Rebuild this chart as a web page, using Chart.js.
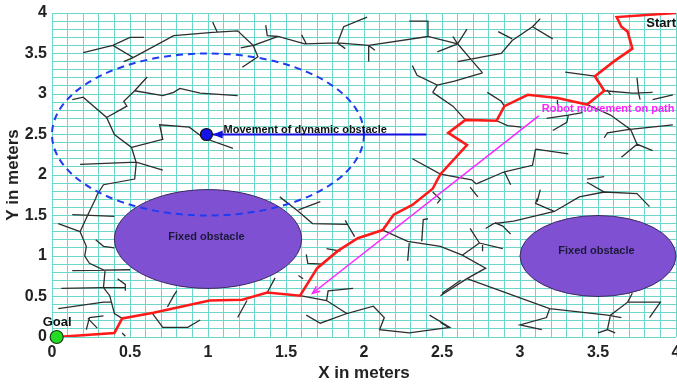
<!DOCTYPE html>
<html>
<head>
<meta charset="utf-8">
<script src="https://cdn.jsdelivr.net/npm/chart.js@4.4.0/dist/chart.umd.min.js"></script>
<style>
  html, body { margin: 0; padding: 0; background: #fff; overflow: hidden; }
  #wrap { width: 677px; height: 385px; overflow: hidden; }
</style>
</head>
<body>
<div id="wrap"><canvas id="chart" width="690" height="385"></canvas></div>
<script>
// axis ticks (meters) - grid every 0.1, labels every 0.5
var tickValues = [0, 0.5, 1, 1.5, 2, 2.5, 3, 3.5, 4];
var tickLabels = ['0', '0.5', '1', '1.5', '2', '2.5', '3', '3.5', '4'];

// RRT tree branches, each one a polyline of [x, y] in meters
var treeBranches = [
  [[0.2,3.51],[0.39,3.6],[0.5,3.7],[0.59,3.7]],
  [[0.39,3.6],[0.52,3.45]],
  [[0.46,3.4],[0.52,3.45],[0.78,3.72],[1.03,3.76],[1.19,3.78],[1.29,3.6],[1.45,3.71],[1.62,3.62],[1.83,3.63],[2.03,3.6],[2.41,3.71],[2.6,3.62]],
  [[1.03,3.89],[1.06,3.76]],
  [[1.21,3.57],[1.29,3.6]],
  [[1.37,3.85],[1.38,3.72],[1.45,3.71]],
  [[1.29,3.6],[1.32,3.46],[1.22,3.33]],
  [[1.6,3.73],[1.63,3.62]],
  [[1.83,3.63],[1.87,3.83],[2.02,3.95]],
  [[1.83,3.63],[1.88,3.56]],
  [[2.03,3.6],[2.03,3.4]],
  [[2.03,3.6],[2.07,3.54]],
  [[2.29,3.9],[2.41,3.9],[2.41,3.71]],
  [[2.47,3.52],[2.6,3.62]],
  [[2.6,3.62],[2.66,3.8]],
  [[2.57,3.71],[2.6,3.62]],
  [[2.6,3.62],[2.68,3.44],[2.76,3.26]],
  [[2.6,3.4],[2.88,3.5],[2.95,3.66],[3.08,3.83],[3.21,3.68]],
  [[2.86,3.77],[2.95,3.68]],
  [[3.13,3.93],[3.08,3.83]],
  [[2.31,3.35],[2.34,3.23],[2.47,3.11],[2.58,3.16],[2.76,3.26]],
  [[2.44,3.02],[2.47,3.11]],
  [[2.44,3.02],[2.57,2.85],[2.65,2.68]],
  [[2.31,2.2],[2.49,2.01],[2.69,1.94],[2.72,1.89]],
  [[0.61,3.21],[0.53,3.04]],
  [[0.53,3.04],[0.71,2.98],[0.78,3.02],[0.82,3.07],[0.95,3.01],[1.19,2.98]],
  [[0.53,3.04],[0.46,2.91],[0.48,2.85],[0.35,2.71]],
  [[0.13,2.93],[0.2,2.96],[0.35,2.71],[0.4,2.5],[0.51,2.34],[0.54,2.15],[0.53,1.95],[0.33,1.88],[0.29,1.76],[0.28,1.71],[0.23,1.51],[0.18,1.3],[0.22,1.12],[0.21,1.0],[0.24,0.91],[0.34,0.82],[0.33,0.61],[0.37,0.51],[0.4,0.29],[0.45,0.23]],
  [[0.51,2.34],[0.71,2.44],[0.69,2.62],[0.88,2.59],[0.97,2.46],[1.16,2.33]],
  [[0.18,2.13],[0.54,2.16],[0.71,2.06]],
  [[0.13,1.51],[0.4,1.49]],
  [[0.04,1.4],[0.18,1.3]],
  [[0.28,1.2],[0.33,1.12],[0.4,1.1]],
  [[0.13,0.82],[0.5,0.83]],
  [[0.06,0.6],[0.32,0.61],[0.47,0.61]],
  [[0.42,0.72],[0.47,0.65],[0.47,0.57]],
  [[0.04,0.35],[0.33,0.43],[0.38,0.43]],
  [[0.22,0.09],[0.24,0.24],[0.33,0.26]],
  [[0.23,0.23],[0.29,0.11]],
  [[0.45,0.05],[0.47,0.01]],
  [[0.64,0.3],[0.71,0.12],[0.87,0.12],[0.95,0.21]],
  [[0.74,0.37],[0.78,0.51],[0.8,0.57]],
  [[1.46,1.73],[1.58,1.55],[1.67,1.4],[1.89,1.39]],
  [[1.58,1.57],[1.72,1.67]],
  [[1.88,1.44],[1.9,1.37],[1.94,1.24]],
  [[1.76,1.09],[1.85,1.06]],
  [[1.63,1.02],[1.64,0.91],[1.74,0.9]],
  [[1.58,0.76],[1.61,0.72]],
  [[1.38,0.55],[1.43,0.73]],
  [[1.19,0.24],[1.25,0.45]],
  [[1.59,0.51],[1.76,0.45],[1.89,0.29],[2.06,0.38],[2.13,0.24],[2.1,0.09],[2.29,0.05],[2.55,0.12],[2.42,0.27]],
  [[1.76,0.45],[1.77,0.57],[1.93,0.6]],
  [[1.63,0.27],[1.72,0.17],[1.89,0.29]],
  [[2.12,1.32],[2.28,1.18],[2.49,1.12],[2.63,1.01],[2.78,0.85],[2.66,0.72],[2.49,0.51]],
  [[2.41,1.46],[2.38,1.45],[2.37,1.18]],
  [[2.29,1.16],[2.28,0.94]],
  [[2.44,1.79],[2.49,1.7],[2.47,1.65]],
  [[2.5,0.54],[2.62,0.7]],
  [[2.79,3.02],[2.88,2.91],[2.9,2.85]],
  [[2.85,2.67],[2.92,2.61],[3.01,2.59]],
  [[3.29,3.27],[3.48,3.22]],
  [[3.54,3.04],[3.72,3.01],[3.85,3.02]],
  [[3.75,3.2],[3.76,3.01],[3.77,2.93]],
  [[3.56,3.05],[3.58,2.99]],
  [[3.85,2.93],[3.98,2.99]],
  [[3.43,2.87],[3.58,2.74],[3.71,2.56],[3.75,2.38],[3.85,2.3]],
  [[3.75,2.38],[3.65,2.22]],
  [[3.54,2.46],[3.56,2.52],[3.69,2.56],[3.98,2.62]],
  [[3.17,2.7],[3.31,2.74],[3.4,2.77]],
  [[3.31,2.74],[3.3,2.65],[3.21,2.55]],
  [[3.24,2.93],[3.24,2.87]],
  [[3.1,2.32],[3.08,2.12],[2.9,2.04],[2.72,1.89]],
  [[3.1,2.32],[3.31,2.26]],
  [[2.9,2.04],[2.94,1.88]],
  [[3.43,1.95],[3.54,1.98]],
  [[3.43,1.91],[3.54,1.79],[3.75,1.77],[3.83,1.61]],
  [[3.13,1.82],[3.11,1.67]],
  [[2.68,1.85],[2.73,1.73]],
  [[3.54,1.79],[3.38,1.73],[3.22,1.55],[2.96,1.43],[2.83,1.4],[2.78,1.34]],
  [[3.11,1.71],[3.1,1.65],[3.17,1.59],[3.22,1.55]],
  [[2.84,1.41],[2.89,1.37],[2.94,1.27]],
  [[2.68,1.34],[2.74,1.16],[2.89,1.09]],
  [[2.74,1.16],[2.63,1.01]],
  [[2.76,1.15],[2.76,1.06]],
  [[2.66,0.72],[3.19,0.35],[3.56,0.27],[3.65,0.24]],
  [[3.19,0.35],[3.17,0.24],[3.0,0.15],[3.14,0.09]],
  [[3.72,0.54],[3.69,0.43],[3.58,0.27],[3.56,0.09],[3.5,0.05]],
  [[3.56,0.09],[3.61,0.05]],
  [[3.69,0.43],[3.9,0.43],[3.83,0.24]],
  [[2.49,0.18],[2.54,0.12]]
];

// final path from start to goal
var robotPath = [[4.0,4.0],[3.62,3.95],[3.65,3.83],[3.69,3.77],[3.72,3.56],[3.6,3.4],[3.48,3.22],[3.54,3.04],
  [3.43,2.87],[3.24,2.95],[3.05,2.99],[2.9,2.85],[2.85,2.67],[2.65,2.68],[2.54,2.52],[2.66,2.37],[2.49,2.01],
  [2.44,1.83],[2.31,1.63],[2.19,1.51],[2.12,1.32],[1.96,1.22],[1.83,1.06],[1.7,0.85],[1.59,0.51],[1.38,0.55],
  [1.22,0.46],[1.01,0.45],[0.65,0.3],[0.45,0.23],[0.4,0.05],[0.03,0.0]];

var goalPoint = [[0.03, 0.0]];
var dynamicObstacle = [[0.99, 2.5]];
var dynamicArrow = [[2.4, 2.5], [1.03, 2.5]];
var robotArrow = [[3.12, 2.73], [1.67, 0.54]];

// fixed obstacles (ellipses, meters)
var obstacleCenters = [[1.0, 1.21], [3.5, 1.0]];
var obstacleRadii = [[0.6, 0.61], [0.5, 0.5]];
// reach of the dynamic obstacle (dashed)
var dynamicReachCenter = [1.0, 2.5];
var dynamicReachRadii = [1.0, 1.0];

var noteTexts = ['Movement of dynamic obstacle', 'Robot movement on path', 'Start', 'Goal', 'Fixed obstacle', 'Fixed obstacle'];
var noteAnchors = [[1.1, 2.56], [3.14, 2.82], [3.81, 3.87], [-0.06, 0.18], [0.99, 1.24], [3.49, 1.06]];

function toPoints(list) {
  return list.map(function (p) { return { x: p[0], y: p[1] }; });
}

// join all branches in one dataset, broken by null points
var treeData = [];
treeBranches.forEach(function (b) {
  b.forEach(function (p) { treeData.push({ x: p[0], y: p[1] }); });
  treeData.push({ x: b[b.length - 1][0], y: null });
});

var FONT = '"Liberation Sans", Arial, sans-serif';

var overlay = {
  id: 'overlay',
  afterDatasetDraw: function (chart, args) {
    // obstacles go right above the tree
    if (args.index !== 5) return;
    var ctx = chart.ctx, xs = chart.scales.x, ys = chart.scales.y;
    ctx.save();
    for (var i = 0; i < obstacleCenters.length; i++) {
      var cx = xs.getPixelForValue(obstacleCenters[i][0]);
      var cy = ys.getPixelForValue(obstacleCenters[i][1]);
      var rx = xs.getPixelForValue(obstacleCenters[i][0] + obstacleRadii[i][0]) - cx;
      var ry = cy - ys.getPixelForValue(obstacleCenters[i][1] + obstacleRadii[i][1]);
      ctx.beginPath();
      ctx.ellipse(cx, cy, rx, ry, 0, 0, Math.PI * 2);
      ctx.fillStyle = '#7f51d2';
      ctx.fill();
      ctx.lineWidth = 1;
      ctx.strokeStyle = '#3b2a60';
      ctx.stroke();
    }
    var dx = xs.getPixelForValue(dynamicReachCenter[0]);
    var dy = ys.getPixelForValue(dynamicReachCenter[1]);
    var drx = xs.getPixelForValue(dynamicReachCenter[0] + dynamicReachRadii[0]) - dx;
    var dry = dy - ys.getPixelForValue(dynamicReachCenter[1] + dynamicReachRadii[1]);
    ctx.beginPath();
    ctx.ellipse(dx, dy, drx, dry, 0, 0, Math.PI * 2);
    ctx.setLineDash([7, 5]);
    ctx.lineWidth = 2;
    ctx.strokeStyle = '#1f3cf0';
    ctx.stroke();
    ctx.restore();
  },
  afterDatasetsDraw: function (chart) {
    var ctx = chart.ctx, xs = chart.scales.x, ys = chart.scales.y;
    ctx.save();
    // blue arrow head
    var tx = xs.getPixelForValue(dynamicArrow[1][0]);
    var ty = ys.getPixelForValue(dynamicArrow[1][1]);
    ctx.beginPath();
    ctx.moveTo(tx, ty);
    ctx.lineTo(tx + 10, ty - 4);
    ctx.lineTo(tx + 10, ty + 4);
    ctx.closePath();
    ctx.fillStyle = '#1010e0';
    ctx.fill();
    // pink arrow head
    var px = xs.getPixelForValue(robotArrow[1][0]);
    var py = ys.getPixelForValue(robotArrow[1][1]);
    var sx = xs.getPixelForValue(robotArrow[0][0]);
    var sy = ys.getPixelForValue(robotArrow[0][1]);
    var ang = Math.atan2(sy - py, sx - px);
    ctx.beginPath();
    ctx.moveTo(px + 8 * Math.cos(ang + 0.4), py + 8 * Math.sin(ang + 0.4));
    ctx.lineTo(px, py);
    ctx.lineTo(px + 8 * Math.cos(ang - 0.4), py + 8 * Math.sin(ang - 0.4));
    ctx.strokeStyle = '#ff22ff';
    ctx.lineWidth = 1.5;
    ctx.stroke();

    // notes
    var styles = [
      { font: 'bold 11px ' + FONT, color: '#111', align: 'left' },
      { font: 'bold 11px ' + FONT, color: '#ff22ff', align: 'left' },
      { font: 'bold 13px ' + FONT, color: '#111', align: 'left' },
      { font: 'bold 13px ' + FONT, color: '#111', align: 'left' },
      { font: 'bold 11px ' + FONT, color: '#1c1838', align: 'center' },
      { font: 'bold 11px ' + FONT, color: '#1c1838', align: 'center' }
    ];
    ctx.textBaseline = 'middle';
    for (var i = 0; i < noteTexts.length; i++) {
      ctx.font = styles[i].font;
      ctx.fillStyle = styles[i].color;
      ctx.textAlign = styles[i].align;
      ctx.fillText(noteTexts[i], xs.getPixelForValue(noteAnchors[i][0]), ys.getPixelForValue(noteAnchors[i][1]));
    }
    ctx.restore();
  }
};

function tickLabel(v) {
  for (var i = 0; i < tickValues.length; i++) {
    if (Math.abs(tickValues[i] - v) < 1e-6) return tickLabels[i];
  }
  return '';
}

var gridColor = '#6dd6cb';

new Chart(document.getElementById('chart'), {
  type: 'scatter',
  data: {
    datasets: [
      { data: toPoints(goalPoint), pointRadius: 6.5, pointBackgroundColor: '#22dd22', pointBorderColor: '#1a3a1a', pointBorderWidth: 1.2, clip: false },
      { data: toPoints(dynamicObstacle), pointRadius: 6, pointBackgroundColor: '#1414e8', pointBorderColor: '#111', pointBorderWidth: 1.2, clip: false },
      { data: toPoints(robotPath), showLine: true, borderColor: '#ff1a1a', borderWidth: 2.6, pointRadius: 0, tension: 0 },
      { data: toPoints(robotArrow), showLine: true, borderColor: '#ff22ff', borderWidth: 1.5, pointRadius: 0 },
      { data: toPoints(dynamicArrow), showLine: true, borderColor: '#1010e0', borderWidth: 2, pointRadius: 0 },
      { data: treeData, showLine: true, spanGaps: false, borderColor: '#2e2e2e', borderWidth: 1.3, pointRadius: 0, tension: 0 }
    ]
  },
  options: {
    responsive: false,
    animation: false,
    events: [],
    layout: { padding: { top: 9, right: 14, left: 0, bottom: 0 } },
    plugins: { legend: { display: false }, tooltip: { enabled: false } },
    scales: {
      x: {
        type: 'linear', min: 0, max: 4,
        afterFit: function (s) { s.height = 48; },
        grid: { color: gridColor, lineWidth: 1, drawTicks: false },
        border: { display: false },
        ticks: { stepSize: 0.1, autoSkip: false, maxRotation: 0, padding: 8, color: '#222',
          font: { family: FONT, size: 16, weight: 'bold', lineHeight: 1 }, callback: tickLabel },
        title: { display: true, text: 'X in meters', color: '#222', padding: { top: 0, bottom: 1 },
          font: { family: FONT, size: 17, weight: 'bold' } }
      },
      y: {
        type: 'linear', min: 0, max: 4,
        afterFit: function (s) { s.width = 52; },
        grid: { color: gridColor, lineWidth: 1, drawTicks: false },
        border: { display: false },
        ticks: { stepSize: 0.1, autoSkip: false, padding: 5, color: '#222',
          font: { family: FONT, size: 16, weight: 'bold', lineHeight: 1 }, callback: tickLabel },
        title: { display: true, text: 'Y in meters', color: '#222', padding: { top: 3, bottom: 0 },
          font: { family: FONT, size: 17, weight: 'bold' } }
      }
    }
  },
  plugins: [overlay]
});
</script>
</body>
</html>
